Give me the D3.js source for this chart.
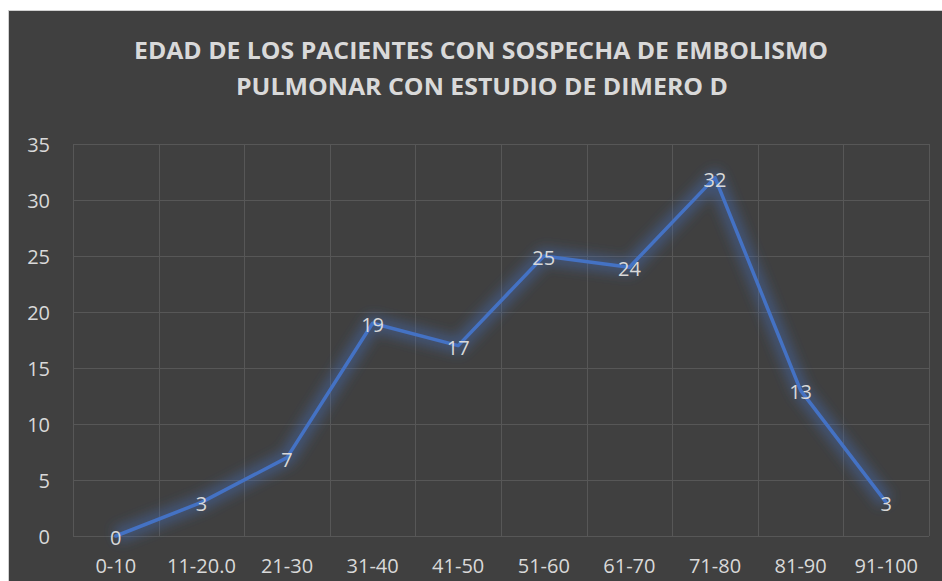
<!DOCTYPE html>
<html>
<head>
<meta charset="utf-8">
<script src="https://cdn.jsdelivr.net/npm/d3@7"></script>
<style>
	html, body { margin: 0; padding: 0; background: #ffffff; }
	svg { display: block; }
</style>
</head>
<body>
<svg width="942" height="581"></svg>
<script>
const titleLines = ['EDAD DE LOS PACIENTES CON SOSPECHA DE EMBOLISMO', 'PULMONAR CON ESTUDIO DE DIMERO D'];
const categories = ['0-10', '11-20.0', '21-30', '31-40', '41-50', '51-60', '61-70', '71-80', '81-90', '91-100'];
const values = [0, 3, 7, 19, 17, 25, 24, 32, 13, 3];
const yTicks = [0, 5, 10, 15, 20, 25, 30, 35];

const svg = d3.select('svg');
const width = +svg.attr('width');
const height = +svg.attr('height');

const margin = { top: 144, right: 13, bottom: 45, left: 73 };
const font = '"Open Sans", sans-serif';
const textColour = '#d9d9d9';
const lineColour = '#4472c4';

// background panel with a thin light border
svg.append('rect')
	.attr('x', 8.5)
	.attr('y', 10.5)
	.attr('width', width - 8)
	.attr('height', height - 10)
	.attr('fill', '#404040')
	.attr('stroke', '#d0d0d0')
	.attr('stroke-width', 1);

const defs = svg.append('defs');
const glow = defs.append('filter')
	.attr('id', 'glow')
	.attr('x', '-20%').attr('y', '-20%')
	.attr('width', '140%').attr('height', '140%');
glow.append('feGaussianBlur').attr('stdDeviation', 6);

// title
const title = svg.append('g')
	.attr('font-family', font)
	.attr('font-weight', 700)
	.attr('font-size', 24)
	.attr('fill', textColour)
	.attr('text-anchor', 'middle');

title.selectAll('text')
	.data(titleLines)
	.enter()
	.append('text')
	.attr('x', (d, i) => i == 0 ? 481 : 482)
	.attr('y', (d, i) => i == 0 ? 59 : 95)
	.attr('textLength', (d, i) => i == 0 ? 694 : 492)
	.attr('lengthAdjust', 'spacingAndGlyphs')
	.text(d => d);

const x = d3.scaleBand()
	.domain(categories)
	.range([margin.left, width - margin.right]);

const y = d3.scaleLinear()
	.domain([0, 35])
	.range([height - margin.bottom, margin.top]);

// grid
const grid = svg.append('g').attr('class', 'grid');
grid.selectAll('line.h')
	.data(yTicks)
	.enter()
	.append('line')
	.attr('class', 'h')
	.attr('x1', margin.left)
	.attr('x2', width - margin.right)
	.attr('y1', d => Math.round(y(d)) + 0.5)
	.attr('y2', d => Math.round(y(d)) + 0.5)
	.attr('stroke', '#575757')
	.attr('stroke-width', 1);

const vLines = categories.map(c => x(c)).concat([x.range()[1]]);
grid.selectAll('line.v')
	.data(vLines)
	.enter()
	.append('line')
	.attr('class', 'v')
	.attr('x1', d => Math.round(d) + 0.5)
	.attr('x2', d => Math.round(d) + 0.5)
	.attr('y1', margin.top)
	.attr('y2', y(0))
	.attr('stroke', '#575757')
	.attr('stroke-width', 1);

// axes (labels only)
const yAxis = svg.append('g')
	.attr('transform', 'translate(50,0)')
	.call(d3.axisLeft(y).tickValues(yTicks).tickSize(0).tickPadding(0));
yAxis.select('.domain').remove();
yAxis.selectAll('text')
	.attr('fill', textColour)
	.attr('font-family', font)
	.attr('font-size', 20)
	.attr('dy', '0.36em');

const xAxis = svg.append('g')
	.attr('transform', `translate(0,${height - margin.bottom})`)
	.call(d3.axisBottom(x).tickSize(0).tickPadding(0));
xAxis.select('.domain').remove();
xAxis.selectAll('text')
	.attr('fill', textColour)
	.attr('font-family', font)
	.attr('font-size', 20)
	.attr('y', 37)
	.attr('dy', 0);

const line = d3.line()
	.x((d, i) => x(categories[i]) + x.bandwidth() / 2)
	.y(d => y(d));

// glow behind the line
svg.append('path')
	.datum(values)
	.attr('d', line)
	.attr('fill', 'none')
	.attr('stroke', lineColour)
	.attr('stroke-opacity', 0.4)
	.attr('stroke-width', 16)
	.attr('stroke-linejoin', 'round')
	.attr('filter', 'url(#glow)');

svg.append('path')
	.datum(values)
	.attr('d', line)
	.attr('fill', 'none')
	.attr('stroke', lineColour)
	.attr('stroke-width', 3.5)
	.attr('stroke-linejoin', 'round')
	.attr('stroke-linecap', 'round');

// data labels centred on the points
svg.append('g')
	.selectAll('text')
	.data(values)
	.enter()
	.append('text')
	.attr('x', (d, i) => x(categories[i]) + x.bandwidth() / 2)
	.attr('y', d => y(d))
	.attr('dy', '0.45em')
	.attr('text-anchor', 'middle')
	.attr('fill', textColour)
	.attr('font-family', font)
	.attr('font-size', 20)
	.text(d => d);
</script>
</body>
</html>
